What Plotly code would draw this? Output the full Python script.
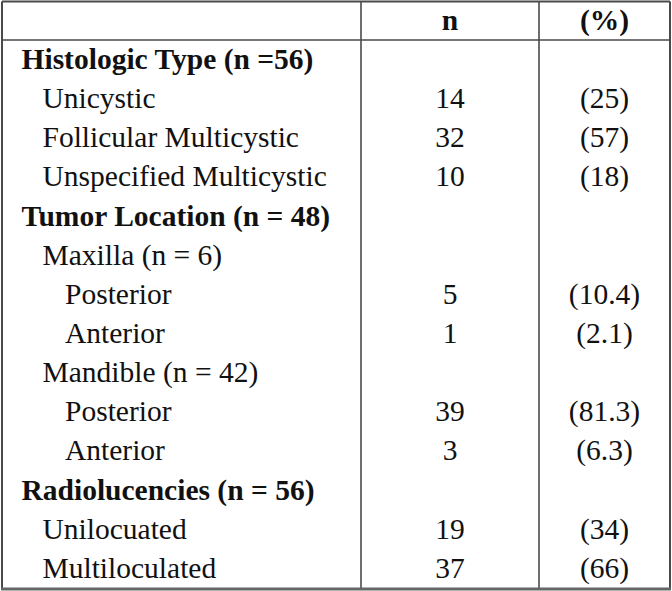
import plotly.graph_objects as go

# ---- data ----
labels = [
    "Histologic Type (n =56)", "Unicystic", "Follicular Multicystic", "Unspecified Multicystic",
    "Tumor Location (n = 48)", "Maxilla (n = 6)", "Posterior", "Anterior",
    "Mandible (n = 42)", "Posterior", "Anterior",
    "Radiolucencies (n = 56)", "Unilocuated", "Multiloculated",
]
levels = [0, 1, 1, 1, 0, 1, 2, 2, 1, 2, 2, 0, 1, 1]
n_values = ["", "14", "32", "10", "", "", "5", "1", "", "39", "3", "", "19", "37"]
pct_values = ["", "(25)", "(57)", "(18)", "", "", "(10.4)", "(2.1)", "", "(81.3)", "(6.3)", "", "(34)", "(66)"]
headers = ["", "n", "(%)"]

# ---- layout constants (pixels) ----
W, H = 672, 591
indent_x = {0: 21.5, 1: 42.5, 2: 65}
col_n_x = 450
col_pct_x = 604.5
row_pitch = 39.14
row0_px = 22.5

rows = list(range(1, len(labels) + 1))
font = dict(family="Liberation Serif, Times New Roman, serif", size=29.5, color="#111111")

fig = go.Figure()

# header
fig.add_trace(go.Scatter(
    x=[col_n_x, col_pct_x], y=[0, 0], mode="text",
    text=["<b>%s</b>" % h for h in headers[1:]],
    textposition="middle center", textfont=font, hoverinfo="skip", showlegend=False))

# labels
fig.add_trace(go.Scatter(
    x=[indent_x[l] for l in levels], y=rows, mode="text",
    text=["<b>%s</b>" % t if l == 0 else t for t, l in zip(labels, levels)],
    textposition="middle right", textfont=font, hoverinfo="skip", showlegend=False))

# n column
fig.add_trace(go.Scatter(
    x=[col_n_x] * len(rows), y=rows, mode="text", text=n_values,
    textposition="middle center", textfont=font, hoverinfo="skip", showlegend=False))

# % column
fig.add_trace(go.Scatter(
    x=[col_pct_x] * len(rows), y=rows, mode="text", text=pct_values,
    textposition="middle center", textfont=font, hoverinfo="skip", showlegend=False))

# grid lines (table borders)
line_col = "#4a4a4a"
def py(px):
    return 1 - px / H

shapes = []
for x in [2, 670]:
    shapes.append(dict(type="line", xref="x", yref="paper", x0=x, x1=x, y0=py(1.5), y1=py(589),
                       line=dict(color=line_col, width=2)))
for x in [361, 539]:
    shapes.append(dict(type="line", xref="x", yref="paper", x0=x, x1=x, y0=py(1.5), y1=py(589),
                       line=dict(color=line_col, width=1.6)))
shapes.append(dict(type="line", xref="x", yref="paper", x0=2, x1=670, y0=py(1.5), y1=py(1.5),
                   line=dict(color=line_col, width=2)))
shapes.append(dict(type="line", xref="x", yref="paper", x0=2, x1=670, y0=py(40), y1=py(40),
                   line=dict(color=line_col, width=1.6)))
shapes.append(dict(type="line", xref="x", yref="paper", x0=1, x1=671, y0=py(589), y1=py(589),
                   line=dict(color="#666666", width=3)))

top = -row0_px / row_pitch
bottom = (H - row0_px) / row_pitch

fig.update_layout(
    width=W, height=H,
    margin=dict(l=0, r=0, t=0, b=0),
    paper_bgcolor="white", plot_bgcolor="white",
    xaxis=dict(range=[0, W], visible=False, fixedrange=True),
    yaxis=dict(range=[bottom, top], visible=False, fixedrange=True),
    shapes=shapes,
)

fig.write_html(
    "out.html",
    config={"displayModeBar": False},
    post_script="document.body.style.margin='0';document.body.style.overflow='hidden';",
)
